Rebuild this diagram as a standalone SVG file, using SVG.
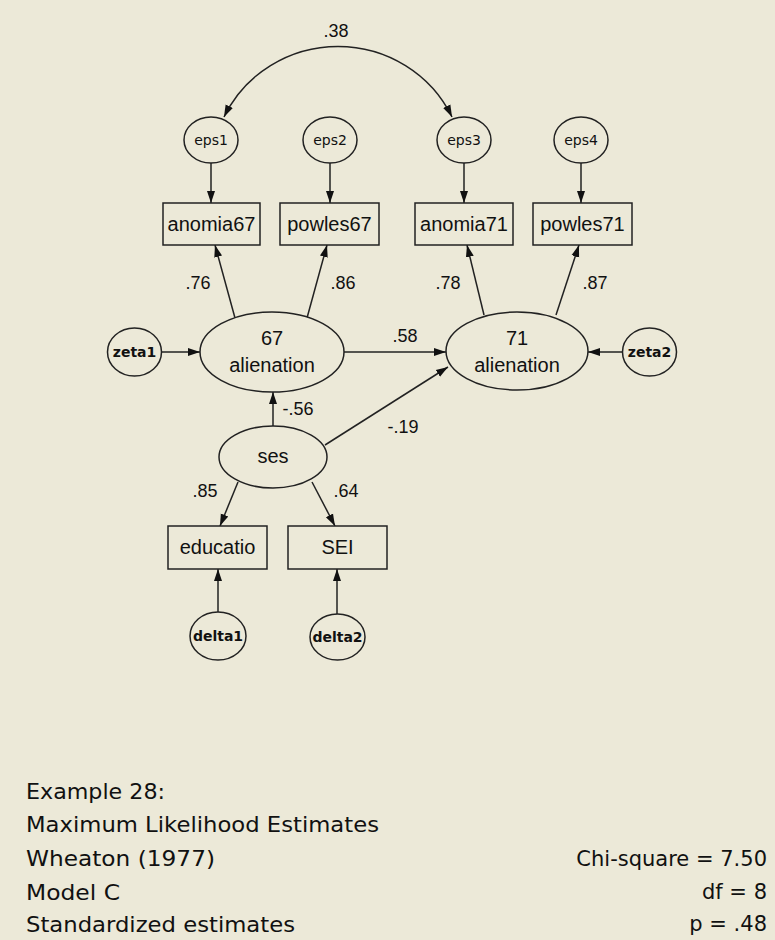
<svg xmlns="http://www.w3.org/2000/svg" width="775" height="940" viewBox="0 0 775 940">
<defs>
<marker id="ah" markerUnits="userSpaceOnUse" markerWidth="13" markerHeight="10" refX="12" refY="5" orient="auto-start-reverse">
<path d="M0,1 L12,5 L0,9 Z" fill="#111"/>
</marker>
<style>
.n{fill:#ECE9D8;stroke:#222;stroke-width:1.5}
.c{fill:none;stroke:#222;stroke-width:1.5;marker-end:url(#ah)}
text{font-family:"Liberation Sans",Arial,sans-serif;fill:#111}
.t{font-size:20px;text-anchor:middle}
.s{font-family:"DejaVu Sans",sans-serif;font-size:14px;text-anchor:middle}
.b{font-family:"DejaVu Sans",sans-serif;font-size:14px;font-weight:bold;text-anchor:middle}
.l{font-size:18px;text-anchor:middle}
.f{font-family:"DejaVu Sans",sans-serif;font-size:21px}
.r{font-family:"DejaVu Sans",sans-serif;font-size:21px;text-anchor:end}
</style>
</defs>
<rect width="775" height="940" fill="#ECE9D8"/>
<g id="connectors">
<path class="c" d="M224,117 A126,123 0 0 1 452,117" style="marker-start:url(#ah)"/>
<line class="c" x1="211" y1="163" x2="211" y2="203"/>
<line class="c" x1="330" y1="163" x2="330" y2="203"/>
<line class="c" x1="464" y1="163" x2="464" y2="203"/>
<line class="c" x1="581" y1="163" x2="581" y2="203"/>
<line class="c" x1="235" y1="318" x2="215" y2="245"/>
<line class="c" x1="307" y1="318" x2="327" y2="245"/>
<line class="c" x1="484" y1="315" x2="467" y2="245"/>
<line class="c" x1="556" y1="315" x2="579" y2="245"/>
<line class="c" x1="162" y1="352" x2="200" y2="352"/>
<line class="c" x1="622" y1="352" x2="588" y2="352"/>
<line class="c" x1="344" y1="352" x2="446" y2="352"/>
<line class="c" x1="273" y1="426" x2="273" y2="392"/>
<line class="c" x1="325" y1="445" x2="448" y2="367"/>
<line class="c" x1="238" y1="482" x2="220" y2="526"/>
<line class="c" x1="312" y1="482" x2="335" y2="526"/>
<line class="c" x1="218" y1="612" x2="218" y2="569"/>
<line class="c" x1="337" y1="614" x2="337" y2="569"/>
<text class="l" x="336" y="37">.38</text>
<text class="l" x="198" y="289">.76</text>
<text class="l" x="343" y="289">.86</text>
<text class="l" x="448" y="289">.78</text>
<text class="l" x="595" y="289">.87</text>
<text class="l" x="405" y="342">.58</text>
<text class="l" x="298" y="415">-.56</text>
<text class="l" x="403" y="433">-.19</text>
<text class="l" x="205" y="497">.85</text>
<text class="l" x="346" y="497">.64</text>
</g>
<g id="eps1"><ellipse class="n" cx="211" cy="140" rx="27" ry="23"/><text class="s" x="211" y="145">eps1</text></g>
<g id="eps2"><ellipse class="n" cx="330" cy="140" rx="27" ry="23"/><text class="s" x="330" y="145">eps2</text></g>
<g id="eps3"><ellipse class="n" cx="464" cy="140" rx="27" ry="23"/><text class="s" x="464" y="145">eps3</text></g>
<g id="eps4"><ellipse class="n" cx="581" cy="140" rx="27" ry="23"/><text class="s" x="581" y="145">eps4</text></g>
<g id="anomia67"><rect class="n" x="163" y="203" width="97" height="42"/><text class="t" x="211.5" y="231">anomia67</text></g>
<g id="powles67"><rect class="n" x="280" y="203" width="99" height="42"/><text class="t" x="329.5" y="231">powles67</text></g>
<g id="anomia71"><rect class="n" x="415" y="203" width="98" height="42"/><text class="t" x="464" y="231">anomia71</text></g>
<g id="powles71"><rect class="n" x="533" y="203" width="99" height="42"/><text class="t" x="582.5" y="231">powles71</text></g>
<g id="zeta1"><ellipse class="n" cx="134.5" cy="352" rx="27" ry="24"/><text class="b" x="134.5" y="357">zeta1</text></g>
<g id="alienation67"><ellipse class="n" cx="272" cy="352" rx="72" ry="40"/><text class="t" x="272" y="345">67</text><text class="t" x="272" y="372">alienation</text></g>
<g id="alienation71"><ellipse class="n" cx="517" cy="351" rx="71" ry="39"/><text class="t" x="517" y="345">71</text><text class="t" x="517" y="372">alienation</text></g>
<g id="zeta2"><ellipse class="n" cx="649.5" cy="352" rx="27" ry="24"/><text class="b" x="649.5" y="357">zeta2</text></g>
<g id="ses"><ellipse class="n" cx="273" cy="457" rx="54" ry="31"/><text class="t" x="273" y="463">ses</text></g>
<g id="educatio"><rect class="n" x="168" y="526" width="99" height="43"/><text class="t" x="217.5" y="554">educatio</text></g>
<g id="SEI"><rect class="n" x="288" y="526" width="99" height="43"/><text class="t" x="337.5" y="554">SEI</text></g>
<g id="delta1"><ellipse class="n" cx="218" cy="636" rx="28" ry="24"/><text class="b" x="218" y="641">delta1</text></g>
<g id="delta2"><ellipse class="n" cx="337.5" cy="637" rx="27.5" ry="23"/><text class="b" x="337.5" y="642">delta2</text></g>
<g id="caption">
<text class="f" x="26" y="799" textLength="139" lengthAdjust="spacingAndGlyphs">Example 28:</text>
<text class="f" x="26" y="832" textLength="353" lengthAdjust="spacingAndGlyphs">Maximum Likelihood Estimates</text>
<text class="f" x="26" y="866" textLength="189" lengthAdjust="spacingAndGlyphs">Wheaton (1977)</text>
<text class="f" x="26" y="900" textLength="94" lengthAdjust="spacingAndGlyphs">Model C</text>
<text class="f" x="26" y="932" textLength="269" lengthAdjust="spacingAndGlyphs">Standardized estimates</text>
<text class="r" x="767" y="866">Chi-square = 7.50</text>
<text class="r" x="767" y="899">df = 8</text>
<text class="r" x="767" y="931">p = .48</text>
</g>
</svg>
